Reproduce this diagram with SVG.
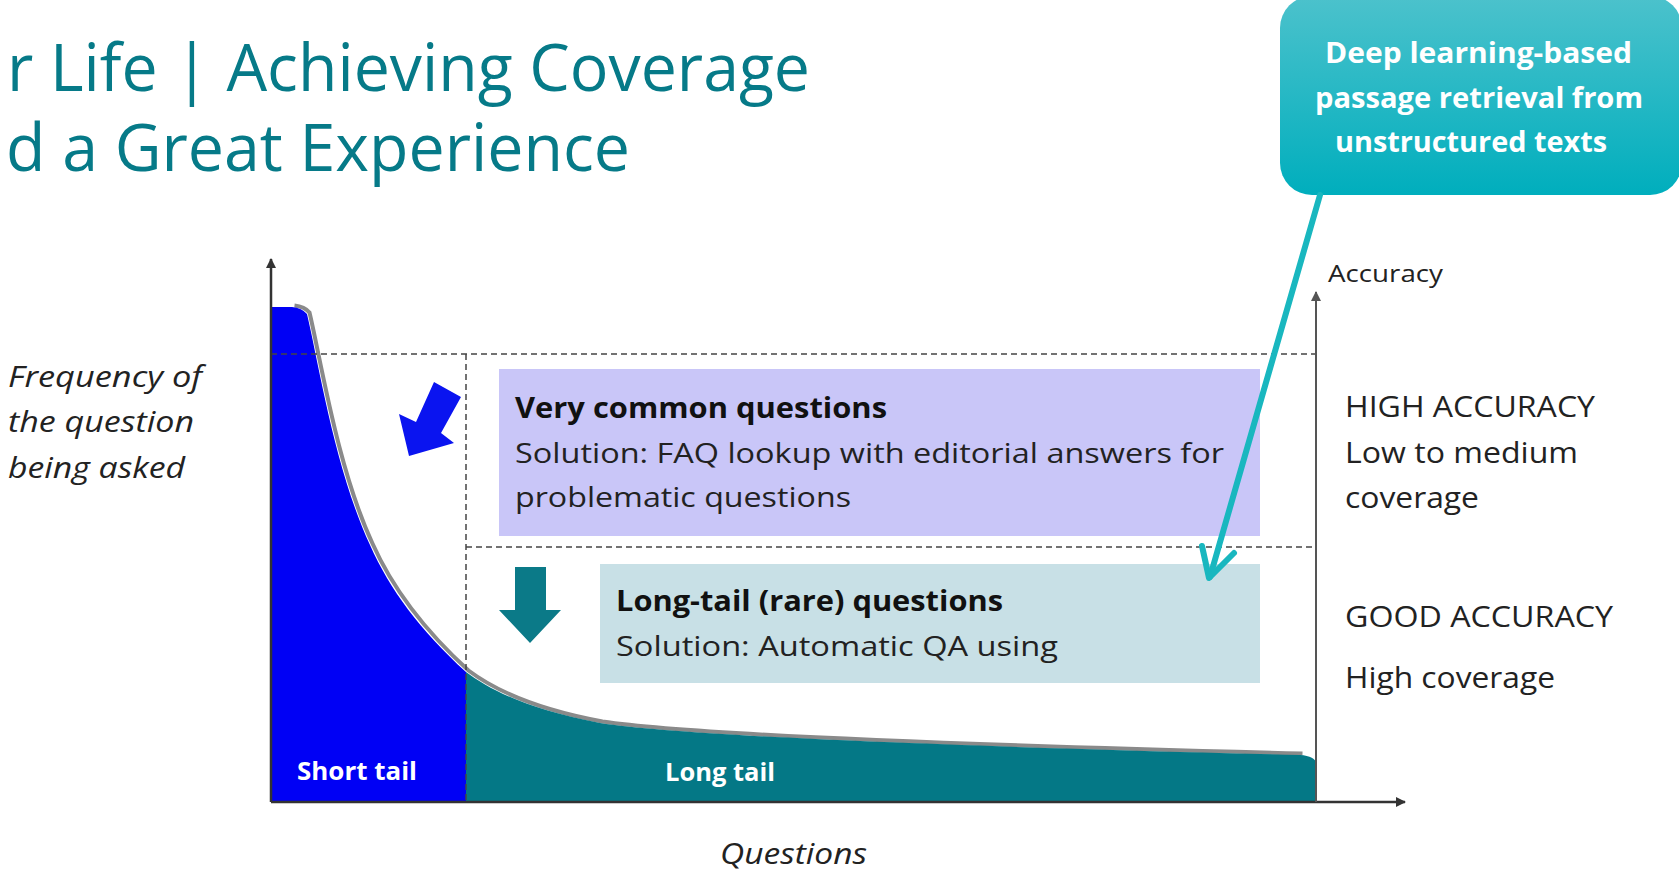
<svg xmlns="http://www.w3.org/2000/svg" width="1679" height="873" viewBox="0 0 1679 873">
<defs>
<linearGradient id="callGrad" x1="0" y1="0" x2="0" y2="1">
<stop offset="0" stop-color="#4cc2cc"/>
<stop offset="1" stop-color="#00aebd"/>
</linearGradient>
<marker id="axHead" viewBox="0 0 10 10" refX="9" refY="5" markerWidth="4" markerHeight="4" orient="auto" markerUnits="strokeWidth">
<path d="M0,0 L10,5 L0,10 Z" fill="#333"/>
</marker>
<marker id="axHeadG" viewBox="0 0 10 10" refX="9" refY="5" markerWidth="5" markerHeight="5" orient="auto" markerUnits="strokeWidth">
<path d="M0,0 L10,5 L0,10 Z" fill="#555"/>
</marker>
</defs>
<style>
.title{font-family:"Open Sans","Liberation Sans",sans-serif;font-size:65px;fill:#067a88}
.call{font-family:"Open Sans","Liberation Sans",sans-serif;font-size:28px;font-weight:bold;fill:#ffffff}
.lab{font-family:"Open Sans","Liberation Sans",sans-serif;font-size:29px;font-style:italic;fill:#222}
.bt{font-family:"Open Sans","Liberation Sans",sans-serif;font-size:28px;font-weight:bold;fill:#111}
.bs{font-family:"Open Sans","Liberation Sans",sans-serif;font-size:28px;fill:#222}
.rl{font-family:"Open Sans","Liberation Sans",sans-serif;font-size:29px;fill:#222}
.tail{font-family:"Open Sans","Liberation Sans",sans-serif;font-size:25px;font-weight:bold;fill:#ffffff}
.dash{stroke:#444;stroke-width:1.5;stroke-dasharray:6 4;fill:none}
</style>
<rect x="0" y="0" width="1679" height="873" fill="#ffffff"/>

<g id="title">
<text class="title" x="7" y="91" textLength="803" lengthAdjust="spacingAndGlyphs">r Life | Achieving Coverage</text>
<text class="title" x="6" y="171" textLength="624" lengthAdjust="spacingAndGlyphs">d a Great Experience</text>
</g>

<g id="curve">
<path d="M292,307 Q302,308 307,314 C318,360 335,470 370,545 C390,590 420,630 466,672 C490,690 530,710 600,723 C680,735 900,745 1300,755" fill="none" stroke="#8a8a8a" stroke-width="4" transform="translate(2.5,-1.5)"/>
<path id="short-tail-area" d="M271,307 L292,307 Q302,308 307,314 C318,360 335,470 370,545 C390,590 420,630 466,672 L466,802 L271,802 Z" fill="#0000f5"/>
<path id="long-tail-area" d="M466,672 C490,690 530,710 600,723 C680,735 900,745 1300,755 Q1316,756 1317,765 L1317,802 L466,802 Z" fill="#047886"/>
</g>

<g id="guides">
<line class="dash" x1="271" y1="354" x2="1316" y2="354"/>
<line class="dash" x1="466" y1="547" x2="1316" y2="547"/>
<line class="dash" x1="466" y1="354" x2="466" y2="802"/>
</g>

<g id="axes">
<line x1="271" y1="802" x2="271" y2="259" stroke="#333" stroke-width="2.5" marker-end="url(#axHead)"/>
<line x1="271" y1="802" x2="1405" y2="802" stroke="#333" stroke-width="2.5" marker-end="url(#axHead)"/>
<line x1="1316" y1="802" x2="1316" y2="292" stroke="#555" stroke-width="2" marker-end="url(#axHeadG)"/>
</g>

<g id="y-label">
<text class="lab" x="8" y="387" textLength="194" lengthAdjust="spacingAndGlyphs">Frequency of</text>
<text class="lab" x="8" y="432" textLength="186" lengthAdjust="spacingAndGlyphs">the question</text>
<text class="lab" x="8" y="478" textLength="177" lengthAdjust="spacingAndGlyphs">being asked</text>
</g>

<g id="x-label">
<text class="lab" x="720" y="864" textLength="147" lengthAdjust="spacingAndGlyphs">Questions</text>
</g>

<g id="accuracy-label">
<text class="rl" x="1328" y="282" style="font-size:23px" textLength="115" lengthAdjust="spacingAndGlyphs">Accuracy</text>
</g>

<g id="short-tail-label">
<text class="tail" x="297" y="780" textLength="120" lengthAdjust="spacingAndGlyphs">Short tail</text>
</g>
<g id="long-tail-label">
<text class="tail" x="665" y="781" textLength="110" lengthAdjust="spacingAndGlyphs">Long tail</text>
</g>

<g id="blue-arrow">
<polygon points="434,382 461,397 441,433 454,443 409,456 399,414 416,422" fill="#0a14f0"/>
</g>
<g id="teal-arrow">
<polygon points="515,567 546,567 546,610 561,610 530,643 499,610 515,610" fill="#0b7a88"/>
</g>

<g id="very-common">
<rect x="499" y="369" width="761" height="167" fill="#c9c6f8"/>
<text class="bt" x="515" y="418" textLength="372" lengthAdjust="spacingAndGlyphs">Very common questions</text>
<text class="bs" x="515" y="463" textLength="709" lengthAdjust="spacingAndGlyphs">Solution: FAQ lookup with editorial answers for</text>
<text class="bs" x="515" y="507" textLength="336" lengthAdjust="spacingAndGlyphs">problematic questions</text>
</g>

<g id="long-tail-box">
<rect x="600" y="564" width="660" height="119" fill="#c8e0e6"/>
<text class="bt" x="616" y="611" textLength="387" lengthAdjust="spacingAndGlyphs">Long-tail (rare) questions</text>
<text class="bs" x="616" y="656" textLength="442" lengthAdjust="spacingAndGlyphs">Solution: Automatic QA using</text>
</g>

<g id="high-accuracy">
<text class="rl" x="1345" y="417" textLength="250" lengthAdjust="spacingAndGlyphs">HIGH ACCURACY</text>
<text class="rl" x="1345" y="463" textLength="233" lengthAdjust="spacingAndGlyphs">Low to medium</text>
<text class="rl" x="1345" y="508" textLength="134" lengthAdjust="spacingAndGlyphs">coverage</text>
</g>
<g id="good-accuracy">
<text class="rl" x="1345" y="627" textLength="268" lengthAdjust="spacingAndGlyphs">GOOD ACCURACY</text>
<text class="rl" x="1345" y="688" textLength="210" lengthAdjust="spacingAndGlyphs">High coverage</text>
</g>

<g id="callout">
<rect x="1280" y="-4" width="402" height="199" rx="32" ry="32" fill="url(#callGrad)"/>
<text class="call" x="1325" y="63" textLength="307" lengthAdjust="spacingAndGlyphs">Deep learning-based</text>
<text class="call" x="1315" y="108" textLength="328" lengthAdjust="spacingAndGlyphs">passage retrieval from</text>
<text class="call" x="1335" y="152" textLength="272" lengthAdjust="spacingAndGlyphs">unstructured texts</text>
</g>

<g id="connectors">
<line x1="1320" y1="195" x2="1210" y2="577" stroke="#19b7bf" stroke-width="6" stroke-linecap="round"/>
<polyline points="1202,546 1209,578 1234,553" fill="none" stroke="#19b7bf" stroke-width="6" stroke-linecap="round" stroke-linejoin="round"/>
</g>
</svg>
